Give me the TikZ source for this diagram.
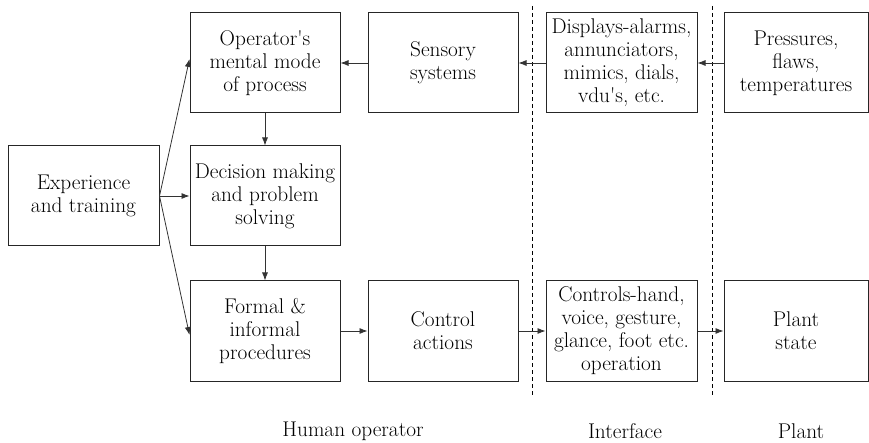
\documentclass[tikz,border=0pt]{standalone}
\usetikzlibrary{arrows.meta}
\begin{document}
\begin{tikzpicture}[x=1pt,y=-1pt,
  box/.style={draw=black!85,line width=1pt,minimum height=100pt,align=center,inner sep=0pt,
    font=\fontsize{21.3}{23}\selectfont},
  conn/.style={draw=black!80,line width=0.8pt,-{Latex[length=8pt,width=6pt]}},
  sep/.style={draw=black,line width=0.8pt,dash pattern=on 4pt off 3pt},
  lbl/.style={font=\fontsize{21.3}{23}\selectfont,inner sep=0pt}]
\useasboundingbox (0,0) rectangle (869,443);
\node[box,minimum width=151pt] (exp) at (83.5,196) {Experience\\and training};
\node[box,minimum width=150pt] (op) at (265,63) {Operator\textquotesingle s\\mental mode\\of process};
\node[box,minimum width=150pt] (sens) at (443,63) {Sensory\\systems};
\node[box,minimum width=151pt] (disp) at (621.5,63) {Displays-alarms,\\annunciators,\\mimics, dials,\\vdu\textquotesingle s, etc.};
\node[box,minimum width=144pt] (pres) at (796,63) {Pressures,\\flaws,\\temperatures};
\node[box,minimum width=150pt] (dec) at (265,196) {Decision making\\and problem\\solving};
\node[box,minimum width=150pt] (form) at (265,331) {Formal \&\\informal\\procedures};
\node[box,minimum width=150pt] (ctrl) at (443,331) {Control\\actions};
\node[box,minimum width=151pt] (cont) at (621.5,331) {Controls-hand,\\voice, gesture,\\glance, foot etc.\\operation};
\node[box,minimum width=144pt] (plant) at (796,331) {Plant\\state};
\coordinate (t1) at (532,6);
\coordinate (b1) at (532,395);
\coordinate (t2) at (712,6);
\coordinate (b2) at (712,395);
\draw[sep] (t1) -- (b1);
\draw[sep] (t2) -- (b2);
\draw[conn] (pres.west) -- (disp.east);
\draw[conn] (disp.west) -- (sens.east);
\draw[conn] (sens.west) -- (op.east);
\draw[conn] (op.south) -- (dec.north);
\draw[conn] (dec.south) -- (form.north);
\draw[conn] (exp.east) -- (dec.west);
\draw[conn] (exp.east) -- ([yshift=4pt]op.west);
\draw[conn] (exp.east) -- ([yshift=-4pt]form.west);
\draw[conn] (form.east) -- (ctrl.west);
\draw[conn] (ctrl.east) -- (cont.west);
\draw[conn] (cont.east) -- (plant.west);
\node[lbl] (lho) at (353,431) {Human operator};
\node[lbl] (lif) at (625,431) {Interface};
\node[lbl] (lpl) at (801,431) {Plant};
\end{tikzpicture}
\end{document}
